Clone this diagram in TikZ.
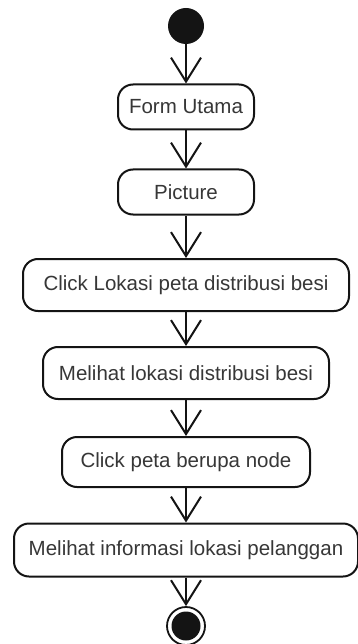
\documentclass[tikz,border=0pt]{standalone}
\usepackage{fontspec}
\setmainfont{Liberation Sans}
\usetikzlibrary{arrows.meta}
\definecolor{ink}{RGB}{20,20,20}
\definecolor{txt}{RGB}{55,55,55}
\tikzset{
  act/.style={draw=ink, line width=2pt, rounded corners=15pt, fill=white,
    minimum height=50pt, inner sep=0pt, text=txt,
    font=\fontsize{20.5}{24}\selectfont},
  flow/.style={draw=ink, line width=2pt,
    -{Straight Barb[length=24pt, width=30pt, line width=2pt]}},
  initial/.style={circle, fill=ink, minimum size=36pt, inner sep=0pt},
  final/.style={circle, draw=ink, line width=1.8pt, fill=white,
    minimum size=38pt, inner sep=0pt,
    path picture={\fill[ink] (path picture bounding box.center) circle (14.5pt);}}
}
\begin{document}
\begin{tikzpicture}[x=1pt, y=1pt]
  \useasboundingbox (0,0) rectangle (358,-644);

  % start and end markers
  \node[initial] (start) at (186,-26) {};
  \node[final] (stop) at (186,-626) {};

  % activities, top to bottom
  \node[act, minimum width=136pt, minimum height=45pt] (form) at (186,-107) {Form Utama};
  \node[act, minimum width=136pt, minimum height=45pt] (pic) at (186,-192) {Picture};
  \node[act, minimum width=326pt, minimum height=52pt] (click) at (186,-285) {Click Lokasi peta distribusi besi};
  \node[act, minimum width=286pt, minimum height=52pt] (lihat) at (186,-373) {Melihat lokasi distribusi besi};
  \node[act, minimum width=248pt, minimum height=50pt] (node) at (186,-462) {Click peta berupa node};
  \node[act, minimum width=344pt, minimum height=53pt] (info) at (186,-550) {Melihat informasi lokasi pelanggan};

  % control flow
  \draw[flow] (start) -- (form);
  \draw[flow] (form) -- (pic);
  \draw[flow] (pic) -- (click);
  \draw[flow] (click) -- (lihat);
  \draw[flow] (lihat) -- (node);
  \draw[flow] (node) -- (info);
  \draw[flow] (info) -- (stop);
\end{tikzpicture}
\end{document}
